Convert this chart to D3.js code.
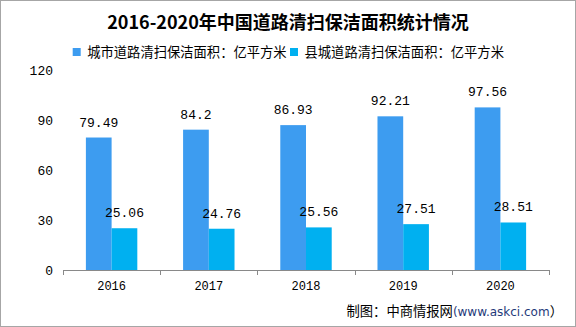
<!DOCTYPE html>
<html><head><meta charset="utf-8">
<script src="https://cdn.jsdelivr.net/npm/d3@7"></script>
<style>
html,body{margin:0;padding:0;background:#fff;}
svg{display:block;}
</style></head>
<body>
<svg id="chart" width="576" height="327"></svg>
<script>
const title = "2016-2020年中国道路清扫保洁面积统计情况";
const categories = ["2016", "2017", "2018", "2019", "2020"];
const seriesNames = ["城市道路清扫保洁面积：亿平方米", "县城道路清扫保洁面积：亿平方米"];
const cityValues = [79.49, 84.2, 86.93, 92.21, 97.56];
const countyValues = [25.06, 24.76, 25.56, 27.51, 28.51];
const cityLabels = ["79.49", "84.2", "86.93", "92.21", "97.56"];
const countyLabels = ["25.06", "24.76", "25.56", "27.51", "28.51"];
const yTicks = [0, 30, 60, 90, 120];
const source = "制图：中商情报网";
const sourceUrl = "(www.askci.com";
const sourceEnd = "）";

const colors = ["#3d9cf0", "#00b0f0"];
const W = 576, H = 327;
const svg = d3.select("#chart");

// border
svg.append("rect").attr("x", 0.5).attr("y", 0.5).attr("width", W - 1).attr("height", H - 1)
  .attr("fill", "#fff").attr("stroke", "#a6a6a6");

const plotLeft = 63, plotRight = 549, plotTop = 70, plotBottom = 270;
const x = d3.scaleBand().domain(categories).range([plotLeft, plotRight]).padding(0);
const y = d3.scaleLinear().domain([0, 120]).range([plotBottom, plotTop]);
const x1 = d3.scaleBand().domain([0, 1]).range([0, x.bandwidth()]).paddingInner(0).paddingOuter(0.89);

const data = categories.map((c, i) => ({
  cat: c,
  vals: [
    {s: 0, v: cityValues[i], label: cityLabels[i]},
    {s: 1, v: countyValues[i], label: countyLabels[i]}
  ]
}));

// title
svg.append("text").attr("x", W / 2).attr("y", 29).attr("text-anchor", "middle")
  .attr("font-family", "'Noto Sans CJK SC', sans-serif").attr("font-weight", "bold")
  .attr("font-size", 18).attr("fill", "#000").text(title);

// legend
const legendX = [72.7, 290];
seriesNames.forEach((n, i) => {
  const g = svg.append("g").attr("transform", `translate(${legendX[i]},48)`);
  g.append("rect").attr("width", 8).attr("height", 8).attr("fill", colors[i]);
  g.append("text").attr("x", 14.5).attr("y", 9).attr("font-size", 13.3)
    .attr("font-family", "'Noto Sans CJK SC', sans-serif").attr("fill", "#000").text(n);
});

// y tick labels
svg.append("g").selectAll("text").data(yTicks).join("text")
  .attr("x", 53).attr("y", d => y(d)).attr("dy", "0.35em").attr("text-anchor", "end")
  .attr("font-family", "'Liberation Mono', monospace").attr("font-size", 13).attr("fill", "#000")
  .text(d => d);

// bars
const groups = svg.append("g").selectAll("g").data(data).join("g")
  .attr("transform", d => `translate(${x(d.cat)},0)`);
groups.selectAll("rect").data(d => d.vals).join("rect")
  .attr("x", d => x1(d.s)).attr("width", x1.bandwidth())
  .attr("y", d => y(d.v)).attr("height", d => y(0) - y(d.v))
  .attr("fill", d => colors[d.s]);
groups.selectAll("text").data(d => d.vals).join("text")
  .attr("x", d => x1(d.s) + x1.bandwidth() / 2).attr("y", d => y(d.v) - 11)
  .attr("text-anchor", "middle")
  .attr("font-family", "'Liberation Mono', monospace").attr("font-size", 13).attr("fill", "#000")
  .text(d => d.label);

// x axis
const axis = svg.append("g").attr("transform", `translate(0,${plotBottom})`);
axis.call(d3.axisBottom(x).tickSize(0).tickPadding(11));
axis.select(".domain").attr("stroke", "#898989").attr("d", `M${plotLeft},0.5H${plotRight}`);
axis.selectAll(".tick text").attr("font-family", "'Liberation Mono', monospace")
  .attr("font-size", 12).attr("fill", "#000");
const edges = categories.map(c => x(c)).concat([x(categories[categories.length - 1]) + x.bandwidth()]);
axis.selectAll("line.edge").data(edges).join("line").attr("class", "edge")
  .attr("x1", d => Math.round(d) + 0.5).attr("x2", d => Math.round(d) + 0.5)
  .attr("y1", 0).attr("y2", 5).attr("stroke", "#898989");

// source
const src = svg.append("text").attr("x", 346.5).attr("y", 316)
  .attr("font-family", "'Noto Sans CJK SC', sans-serif").attr("font-size", 13.3).attr("fill", "#000");
src.append("tspan").text(source);
src.append("tspan").attr("fill", "#1f3a7a").attr("font-family", "'DejaVu Sans', sans-serif")
  .attr("font-size", 12).text(sourceUrl);
src.append("tspan").text(sourceEnd);
</script>
</body></html>
